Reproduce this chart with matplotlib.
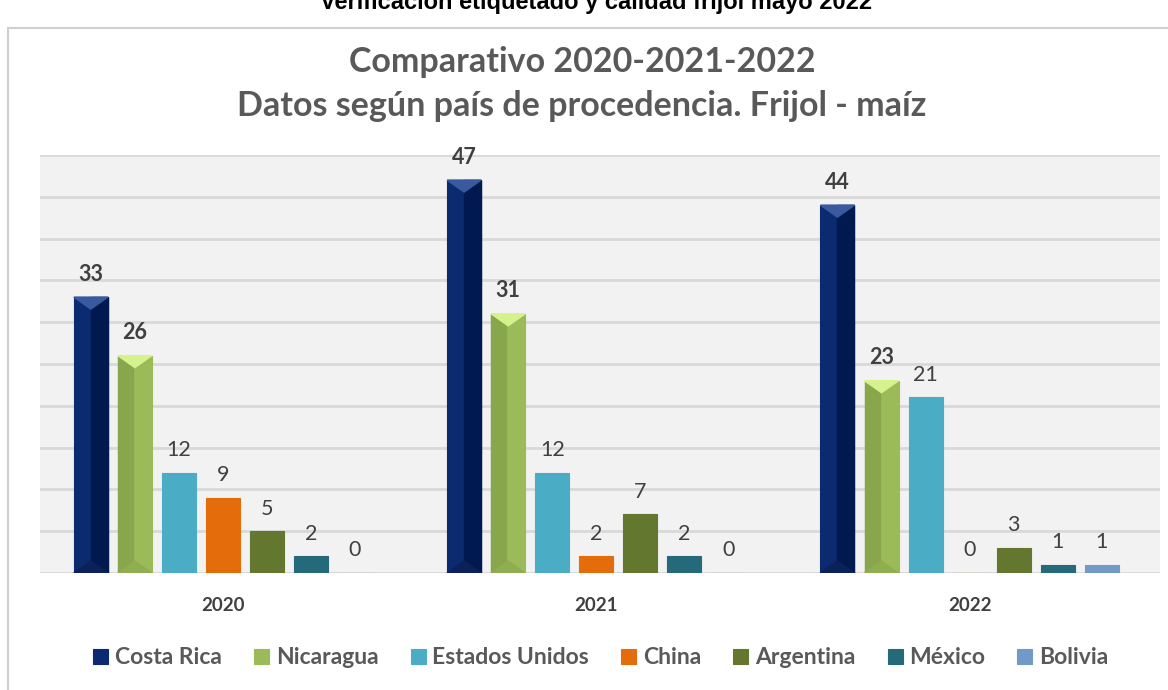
import numpy as np
import matplotlib.pyplot as plt
from matplotlib.patches import Rectangle, Polygon

years = ['2020', '2021', '2022']
countries = ['Costa Rica', 'Nicaragua', 'Estados Unidos', 'China', 'Argentina', 'México', 'Bolivia']
costa_rica = [33, 47, 44]
nicaragua = [26, 31, 23]
estados_unidos = [12, 12, 21]
china = [9, 2, 0]
argentina = [5, 7, 3]
mexico = [2, 2, 1]
bolivia = [0, 0, 1]

series = [costa_rica, nicaragua, estados_unidos, china, argentina, mexico, bolivia]
colors = ['#0b2a6f', '#9bbb59', '#4bacc6', '#e46c0a', '#64772f', '#256a7a', '#7399c6']
bold_labels = [True, True, False, False, False, False, False]

W, H = 1168, 690
fig = plt.figure(figsize=(W / 100, H / 100), dpi=100)
fig.patch.set_facecolor('white')
font = 'Lato'

# frame of the chart object
fig.patches.append(Rectangle((8 / W, -0.01), 1.05, (H - 28) / H + 0.01, transform=fig.transFigure,
                             fill=False, edgecolor='#d0d0d0', lw=1.5))

# header above the chart (cut at the top in the original)
fig.text(596 / W, 1 - 3 / H, 'Verificación etiquetado y calidad frijol mayo 2022', ha='center', va='center',
         fontsize=17, fontweight='bold', family='Liberation Sans', color='black')

fig.text(582 / W, 1 - 62 / H, 'Comparativo 2020-2021-2022', ha='center', va='center',
         fontsize=24.5, fontweight='bold', family=font, color='#595959')
fig.text(582 / W, 1 - 106 / H, 'Datos según país de procedencia. Frijol - maíz', ha='center', va='center',
         fontsize=24.5, fontweight='bold', family=font, color='#595959')

ax = fig.add_axes([40 / W, 1 - 573 / H, 1120 / W, 418 / H])
ax.set_facecolor('#f2f2f2')
ax.set_xlim(-0.49, 2.51)
ax.set_ylim(0, 50)
ax.set_yticks(np.arange(0, 51, 5))
ax.yaxis.grid(True, color='#d9d9d9', lw=2)
ax.set_axisbelow(True)
ax.tick_params(left=False, labelleft=False, bottom=False)
for s in ax.spines.values():
    s.set_visible(False)
ax.axhline(0, color='#d9d9d9', lw=2, zorder=1)

x = np.arange(len(years))
step = 44 / 373
width = 34 / 373
unit_px = 418 / 50
depth = 12 / unit_px

for i, (vals, col) in enumerate(zip(series, colors)):
    pos = x + (i - 3) * step
    bars = ax.bar(pos, vals, width, color=col, edgecolor=col, lw=0.8, label=countries[i], zorder=2)
    for b, v in zip(bars, vals):
        cx = b.get_x() + b.get_width() / 2
        if i == 0:
            # bevel look
            ax.add_patch(Rectangle((cx, 0), width / 2, v, color='#001a50', zorder=3))
            ax.add_patch(Polygon([(b.get_x(), v), (b.get_x() + width, v), (cx, v - depth)],
                                 color='#3a5aa0', zorder=4))
            ax.add_patch(Polygon([(b.get_x(), 0), (b.get_x() + width, 0), (cx, depth)],
                                 color='#0a2259', zorder=4))
        elif i == 1:
            ax.add_patch(Rectangle((b.get_x(), 0), width * 0.45, v, color='#88a64c', zorder=3))
            ax.add_patch(Polygon([(b.get_x(), v), (b.get_x() + width, v), (cx, v - depth)],
                                 color='#d6f28c', zorder=4))
            ax.add_patch(Polygon([(b.get_x(), 0), (b.get_x() + width, 0), (cx, depth)],
                                 color='#8fae50', zorder=4))
        ax.text(cx, v + 1.5, str(v), ha='center', va='bottom', fontsize=15.5, family=font,
                fontweight='bold' if bold_labels[i] else 'normal', color='#404040')

ax.set_xticks(x)
ax.set_xticklabels(years, fontsize=13.5, fontweight='bold', family=font, color='#404040')
ax.tick_params(axis='x', pad=14)

handles, labels = ax.get_legend_handles_labels()
leg = fig.legend(handles, labels, loc='center', bbox_to_anchor=(601 / W, 1 - 658 / H), ncol=7,
                 frameon=False, prop={'family': font, 'size': 16.5, 'weight': 'bold'},
                 handlelength=0.65, handleheight=0.65, handletextpad=0.3, columnspacing=1.4)
for t in leg.get_texts():
    t.set_color('#595959')

fig.savefig('out.png', dpi=100)
